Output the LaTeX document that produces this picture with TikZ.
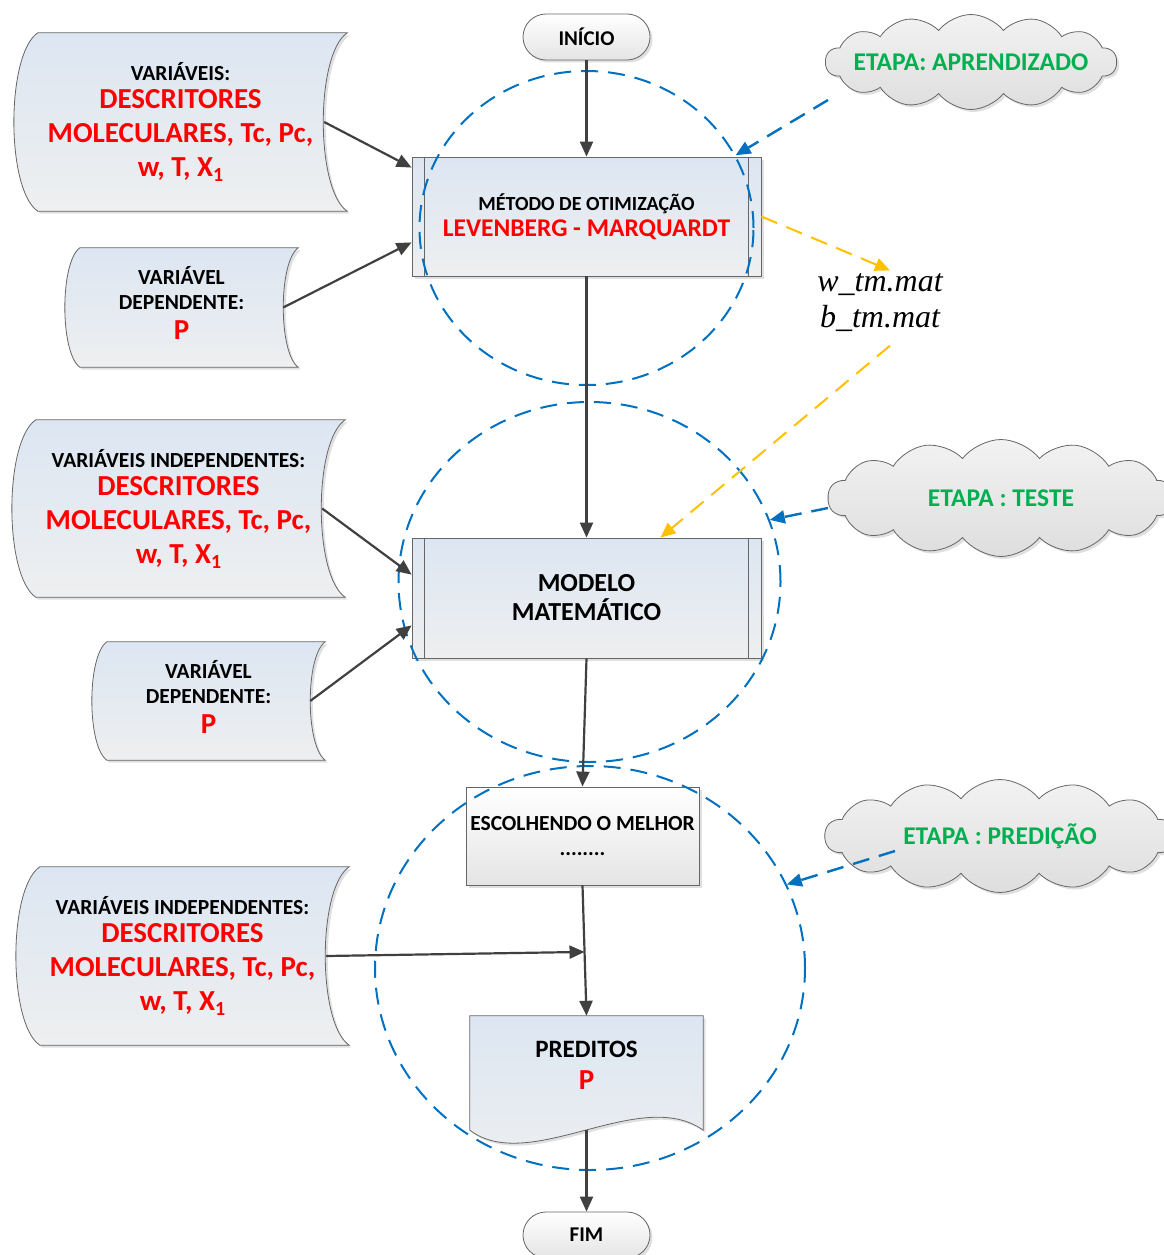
\documentclass[tikz,border=0pt]{standalone}
\usepackage{fontspec}
\setmainfont{Carlito}
\newfontfamily\serifa{Liberation Serif}
\usetikzlibrary{positioning,calc,arrows.meta,shapes.geometric,shapes.symbols,shadows}

\definecolor{azul}{HTML}{0070C0}
\definecolor{amarelo}{HTML}{FFC000}
\definecolor{verde}{HTML}{00B050}
\definecolor{vermelho}{HTML}{FF0000}
\definecolor{grafite}{HTML}{404040}
\definecolor{azulclaro}{HTML}{DCE6F2}
\definecolor{cinzaclaro}{HTML}{EEEFF0}
\definecolor{cinzanuvem}{HTML}{DEDEDE}

\pgfdeclarelayer{fundo}
\pgfsetlayers{fundo,main}

\newcommand{\rotulo}[1]{{\color{black}\fontsize{21.5}{25}\selectfont #1}}
\newcommand{\xindice}[1]{\raisebox{-5pt}{\fontsize{20}{20}\selectfont #1}}
% forma de dados armazenados em volta de um no: #1 no, #2 curvatura
\newcommand{\armazena}[2]{%
  \begin{pgfonlayer}{fundo}
  \path[dados] let \p1=(#1.north west), \p2=(#1.south east) in
    ({\x1+#2pt},\y1) -- (\x2,\y1)
    .. controls ({\x2-1.33*#2pt},{\y1-0.12*(\y1-\y2)}) and ({\x2-1.33*#2pt},{\y2+0.12*(\y1-\y2)}) .. (\x2,\y2)
    -- ({\x1+#2pt},\y2)
    .. controls ({\x1-0.33*#2pt},{\y2+0.12*(\y1-\y2)}) and ({\x1-0.33*#2pt},{\y1-0.12*(\y1-\y2)}) .. cycle;
  \end{pgfonlayer}}

\tikzset{
  sombra/.style={drop shadow={shadow xshift=2.5pt, shadow yshift=-2.5pt, opacity=0.3, fill=black!40}},
  seta/.style={draw=grafite, line width=2.2pt, -{Triangle[length=15pt,width=13pt]}},
  etapa/.style={ellipse, draw=azul, line width=2pt, dash pattern=on 17pt off 10pt, inner sep=0pt},
  etapaseta/.style={draw=azul, line width=2.4pt, dash pattern=on 17pt off 10pt, -{Triangle[length=15pt,width=13pt]}},
  matseta/.style={draw=amarelo, line width=2pt, dash pattern=on 17pt off 10pt, -{Triangle[length=15pt,width=13pt]}},
  dados/.style={draw=grafite!80, line width=0.8pt, top color=azulclaro, bottom color=cinzaclaro, sombra},
  vars/.style={inner sep=0pt, align=center, text=vermelho, font=\bfseries\fontsize{29}{34}\selectfont},
  processo/.style={rectangle, draw=grafite!80, line width=0.8pt, top color=azulclaro, bottom color=cinzaclaro, sombra,
    minimum width=349pt, minimum height=119pt, inner sep=0pt, align=center},
  terminal/.style={rectangle, rounded corners=23pt, draw=grafite!80, line width=0.8pt, top color=white, bottom color=cinzanuvem!80,
    sombra, minimum width=127pt, minimum height=46pt, font=\bfseries\fontsize{21}{25}\selectfont},
  nuvem/.style={cloud, cloud puffs=14, cloud puff arc=105, cloud ignores aspect, draw=grafite!80, line width=0.8pt,
    top color=white!95!black, bottom color=cinzanuvem, sombra, inner sep=0pt, text=verde,
    font=\bfseries\fontsize{25.5}{30}\selectfont},
}

\begin{document}
\begin{tikzpicture}[x=1pt, y=-1pt]
  \useasboundingbox (0,0) rectangle (1163,1255);

  % fluxo principal
  \node[terminal] (inicio) at (586.5,37) {INÍCIO};
  \node[processo, font=\bfseries\fontsize{25.5}{30}\selectfont] (metodo) at (586.5,216.5)
    {{\color{black}\fontsize{20}{24}\selectfont MÉTODO DE OTIMIZAÇÃO}\\[-4pt] {\color{vermelho}LEVENBERG - MARQUARDT}};
  \node[processo, minimum height=120pt, font=\bfseries\fontsize{26}{29}\selectfont] (modelo) at (586.5,598)
    {MODELO\\MATEMÁTICO};
  \foreach \b in {metodo,modelo} {
    \draw[grafite!80, line width=0.8pt] ([xshift=13pt]\b.north west) -- ([xshift=13pt]\b.south west);
    \draw[grafite!80, line width=0.8pt] ([xshift=-13pt]\b.north east) -- ([xshift=-13pt]\b.south east);
  }
  \node[rectangle, draw=grafite!80, line width=0.8pt, top color=white, bottom color=cinzanuvem!80, sombra,
    minimum width=233pt, minimum height=98pt, inner sep=0pt, align=center,
    font=\bfseries\fontsize{21.5}{25}\selectfont] (escolha) at (582.5,836) {ESCOLHENDO O MELHOR\\........};
  \node[minimum width=233pt, minimum height=114pt, inner sep=0pt] (preditos) at (586.5,1073) {};
  \path[dados] (preditos.north west) -- (preditos.north east) -- (preditos.south east)
    .. controls ([shift={(-63pt,45pt)}]preditos.south east) and ([shift={(60pt,-45pt)}]preditos.south west) .. (preditos.south west)
    -- cycle;
  \node[align=center, font=\bfseries\fontsize{25}{32}\selectfont] (preditostxt) at ([yshift=8pt]preditos.center)
    {PREDITOS\\{\color{vermelho}\fontsize{29}{32}\selectfont P}};
  \node[terminal] (fim) at (586.5,1235) {FIM};

  % variaveis de entrada
  \node[vars, minimum width=333pt, minimum height=178pt] (vind1) at (180.5,122)
    {\rotulo{VARIÁVEIS:}\\[-6pt] DESCRITORES\\ MOLECULARES, Tc, Pc,\\ w, T, X\xindice{1}};
  \node[vars, minimum width=233pt, minimum height=119pt] (vdep1) at (181.5,307.5)
    {\rotulo{VARIÁVEL}\\[-9pt] \rotulo{DEPENDENTE:}\\[-4pt] P\rule[-9pt]{0pt}{0pt}};
  \node[vars, minimum width=333pt, minimum height=177pt] (vind2) at (178.5,508.5)
    {\rotulo{VARIÁVEIS INDEPENDENTES:}\\[-6pt] DESCRITORES\\ MOLECULARES, Tc, Pc,\\ w, T, X\xindice{1}};
  \node[vars, minimum width=233pt, minimum height=118pt] (vdep2) at (208.5,701)
    {\rotulo{VARIÁVEL}\\[-9pt] \rotulo{DEPENDENTE:}\\[-4pt] P\rule[-9pt]{0pt}{0pt}};
  \node[vars, minimum width=333pt, minimum height=178pt] (vind3) at (182.5,956)
    {\rotulo{VARIÁVEIS INDEPENDENTES:}\\[-6pt] DESCRITORES\\ MOLECULARES, Tc, Pc,\\ w, T, X\xindice{1}};
  \armazena{vind1}{24}
  \armazena{vdep1}{15}
  \armazena{vind2}{24}
  \armazena{vdep2}{15}
  \armazena{vind3}{24}

  % etapas
  \node[etapa, minimum width=334pt, minimum height=314pt] (etapa1) at (586.5,228) {};
  \node[etapa, minimum width=382pt, minimum height=360pt] (etapa2) at (589.5,582) {};
  \node[etapa, minimum width=430pt, minimum height=404pt] (etapa3) at (590,968) {};
  \node[nuvem, minimum width=291pt, minimum height=95pt] (aprend) at (971,62) {\makebox[0pt]{ETAPA: APRENDIZADO}};
  \node[nuvem, minimum width=346pt, minimum height=117pt] (teste) at (1001,498) {\makebox[0pt]{ETAPA : TESTE}};
  \node[nuvem, minimum width=350pt, minimum height=113pt] (predicao) at (1000,836) {\makebox[0pt]{ETAPA : PREDIÇÃO}};

  % arquivos de pesos
  \node[align=center, font=\serifa\itshape\fontsize{32}{36}\selectfont] (mat) at (880,303) {w\_tm.mat\\b\_tm.mat};

  % conexoes
  \draw[seta] (inicio.south) -- (metodo.north);
  \draw[seta] ([xshift=-23pt]vind1.east) -- ([yshift=-11pt]metodo.north west);
  \draw[seta] ([xshift=-15pt]vdep1.east) -- ([yshift=34pt]metodo.south west);
  \draw[seta] (metodo.south) -- (modelo.north);
  \draw[seta] ([xshift=-23pt]vind2.east) -- ([yshift=-37pt]modelo.north west);
  \draw[seta] ([xshift=-15pt]vdep2.east) -- ([yshift=33pt]modelo.south west);
  \draw[seta] (modelo.south) -- (escolha.north);
  \draw[seta] (escolha.south) -- (preditos.north);
  \coordinate (junta) at ($(escolha.south)!0.51!(preditos.north)$);
  \draw[seta] ([xshift=-23pt]vind3.east) -- (junta);
  \draw[seta] (preditos.south) -- (fim.north);

  \draw[matseta] (metodo.east) -- ([xshift=10pt]mat.north);
  \draw[matseta] ([shift={(10pt,-10pt)}]mat.south) -- ([xshift=74pt]modelo.north);

  \draw[etapaseta] ([shift={(828pt-971pt,-38pt)}]aprend.center) -- (etapa1.26);
  \draw[etapaseta] ([shift={(828pt-1001pt,-10pt)}]teste.center) -- (etapa2.19);
  \draw[etapaseta] ([shift={(-105pt,-15pt)}]predicao.center) -- (etapa3.23);
\end{tikzpicture}
\end{document}
